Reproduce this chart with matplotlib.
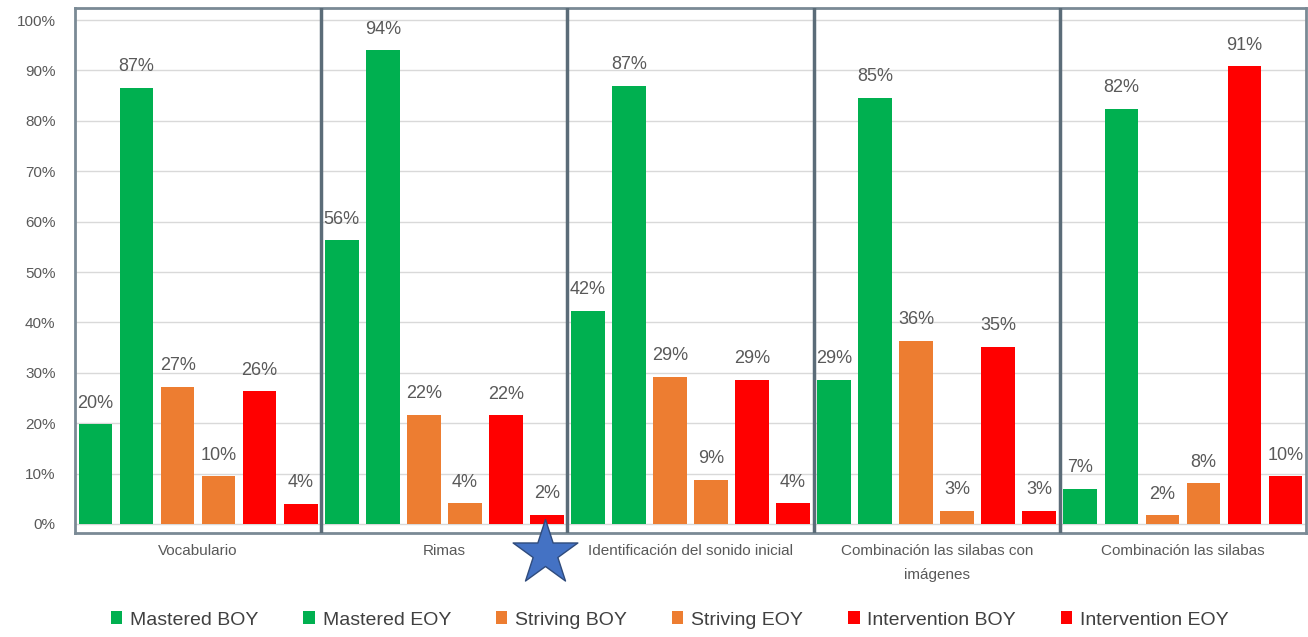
import matplotlib
matplotlib.use("Agg")
import matplotlib.pyplot as plt
from matplotlib.patches import Patch
import numpy as np

plt.rcParams['font.family'] = ['Liberation Sans', 'DejaVu Sans']

categories = ["Vocabulario", "Rimas", "Identificación del sonido inicial",
              "Combinación las silabas con\nimágenes", "Combinación las silabas"]
series = ["Mastered BOY", "Mastered EOY", "Striving BOY", "Striving EOY",
          "Intervention BOY", "Intervention EOY"]
colors = ["#00b050", "#00b050", "#ed7d31", "#ed7d31", "#ff0000", "#ff0000"]

mastered_boy = [19.8, 56.3, 42.3, 28.6, 7.0]
mastered_eoy = [86.6, 94.0, 87.0, 84.6, 82.4]
striving_boy = [27.2, 21.7, 29.2, 36.4, 1.7]
striving_eoy = [9.5, 4.1, 8.8, 2.6, 8.1]
intervention_boy = [26.3, 21.6, 28.6, 35.2, 90.8]
intervention_eoy = [4.0, 1.8, 4.1, 2.6, 9.5]

data = [mastered_boy, mastered_eoy, striving_boy, striving_eoy,
        intervention_boy, intervention_eoy]

W, H = 1308, 637
fig = plt.figure(figsize=(W / 100, H / 100), dpi=100)
ax = fig.add_axes([75 / W, 1 - 533 / H, 1231 / W, 525 / H])

n_series = len(series)
for s, (vals, col) in enumerate(zip(data, colors)):
    xs = np.arange(len(categories)) * n_series + s + 0.5
    ax.bar(xs, vals, width=0.82, color=col, zorder=3)
    for x, v in zip(xs, vals):
        ax.annotate(f"{round(v)}%", (x, v), xytext=(0, 9), textcoords="offset points",
                    ha="center", va="bottom", fontsize=13, color="#595959", zorder=4)

ax.set_xlim(0, n_series * len(categories))
ax.set_ylim(-1.8, 102.4)
ax.set_yticks(np.arange(0, 101, 10))
ax.set_yticklabels([f"{t}%" for t in range(0, 101, 10)], fontsize=11, color="#595959")
ax.yaxis.grid(True, color="#d9d9d9", lw=1, zorder=0)
ax.tick_params(axis="y", length=0, pad=14)

centers = np.arange(len(categories)) * n_series + n_series / 2
ax.set_xticks(centers)
ax.set_xticklabels(categories, fontsize=11, color="#595959", va="top", linespacing=1.9)
ax.tick_params(axis="x", length=0, pad=8)

for b in range(1, len(categories)):
    ax.axvline(b * n_series, color="#5b6c78", lw=2.5, zorder=5)

for sp in ax.spines.values():
    sp.set_color("#7a8a95")
    sp.set_linewidth(2)

# decorative star
ax.scatter([(545 - 75) / 1231], [(533 - 553) / 525], marker="*", s=2400,
           color="#4472c4", edgecolor="#2f4b7c", linewidth=1, transform=ax.transAxes,
           clip_on=False, zorder=6)

handles = [Patch(facecolor=c, label=l) for c, l in zip(colors, series)]
fig.legend(handles=handles, loc="center", bbox_to_anchor=(0.512, 1 - 620 / H), ncol=6,
           frameon=False, fontsize=14, handlelength=0.6, handleheight=0.6,
           handletextpad=0.4, columnspacing=2.3, labelcolor="#404040")

fig.savefig("out.png", dpi=100)
